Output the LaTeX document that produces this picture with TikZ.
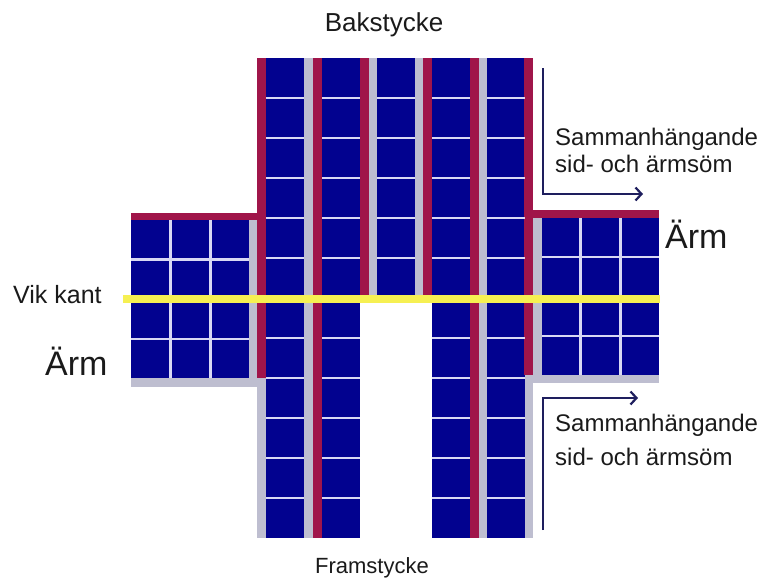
\documentclass[tikz,border=0pt]{standalone}
\usepackage{fontspec}
\setmainfont{Liberation Sans}
\usetikzlibrary{
  arrows.meta,
  positioning
}
\definecolor{cellblue}{HTML}{02028F}
\definecolor{seamred}{HTML}{A0154A}
\definecolor{edgegrey}{HTML}{BEBED0}
\definecolor{lavender}{HTML}{D8D8F4}
\definecolor{foldyellow}{HTML}{F6F052}
\definecolor{arrowink}{HTML}{1E1E5E}
\definecolor{textink}{HTML}{1A1A1A}
\tikzset{
  knitpatch/.style={
    fill=cellblue
  },
  seamstrip/.style={
    fill=seamred
  },
  greyedge/.style={
    fill=edgegrey
  },
  rowline/.style={
    draw=lavender,
    line width=2.6pt
  },
  foldline/.style={
    draw=foldyellow,
    line width=8pt
  },
  seamarrow/.style={
    -{Straight Barb[length=6pt,width=13pt,line width=2.2pt]},
    line width=2.2pt,
    draw=arrowink
  },
  tagtext/.style={
    text=textink,
    inner sep=0pt
  }
}

\begin{document}
\begin{tikzpicture}[x=1pt,y=-1pt]
  \useasboundingbox[fill=white] (0,0) rectangle (774,581);

  % sleeves
  \fill[greyedge] (131,220) rectangle (258,387);
  \fill[knitpatch] (131,220) rectangle (249,378);
  \fill[seamstrip] (131,213) rectangle (262,220);
  \fill[greyedge] (533,218) rectangle (659,383);
  \fill[knitpatch] (542,218) rectangle (659,375);
  \fill[seamstrip] (528,210) rectangle (659,218);
  \foreach \gx in {170.5,210.5}{
    \draw[rowline] (\gx,220) -- (\gx,378);
  }
  \foreach \gy in {259.5,339}{
    \draw[rowline] (131,\gy) -- (249,\gy);
  }
  \foreach \gx in {580.5,620.5}{
    \draw[rowline] (\gx,218) -- (\gx,375);
  }
  \foreach \gy in {257,336}{
    \draw[rowline] (542,\gy) -- (659,\gy);
  }

  % body pieces
  \fill[greyedge] (257,58) rectangle (533,298);
  \fill[greyedge] (257,298) rectangle (360,538);
  \fill[greyedge] (432,298) rectangle (533,538);
  \fill[greyedge] (533,375) rectangle (540,383);
  \foreach \cx/\cbot in {266/538,322/538,377/298,432/538,487/538}{
    \fill[knitpatch] (\cx,58) rectangle ({\cx+38},\cbot);
  }
  \foreach \sx/\sbot in {257/378,313/538,360/298,423/298,470/538,524/375}{
    \fill[seamstrip] (\sx,58) rectangle ({\sx+9},\sbot);
  }
  \foreach \cx/\rows in {266/10,322/10,377/4,432/10,487/10}{
    \foreach \k in {0,...,\rows}{
      \pgfmathsetmacro{\ry}{98+40*\k}
      \ifdim\ry pt=298pt\else
        \draw[rowline] (\cx,\ry) -- ({\cx+38},\ry);
      \fi
    }
  }

  % fold
  \coordinate (foldwest) at (123,299);
  \coordinate (foldeast) at (660,299);
  \draw[foldline] (foldwest) -- (foldeast);

  % seams
  \coordinate (upstart) at (543,68);
  \coordinate (upbend) at (543,194);
  \coordinate (uptip) at (643,194);
  \draw[seamarrow] (upstart) -- (upbend) -- (uptip);
  \coordinate (lowstart) at (543,530);
  \coordinate (lowbend) at (543,398);
  \coordinate (lowtip) at (638,398);
  \draw[seamarrow] (lowstart) -- (lowbend) -- (lowtip);

  % texts
  \node[tagtext, anchor=base, font=\fontsize{26}{30}\selectfont]
    (back) at (384,31) {Bakstycke};
  \node[tagtext, anchor=base, font=\fontsize{22}{26}\selectfont]
    (front) at (372,573) {Framstycke};
  \node[tagtext, anchor=base west, font=\fontsize{25}{29}\selectfont]
    (fold) at (13,303) {Vik kant};
  \node[tagtext, anchor=base west, font=\fontsize{34}{38}\selectfont]
    (sleeveleft) at (45,375) {Ärm};
  \node[tagtext, anchor=base west, font=\fontsize{34}{38}\selectfont]
    (sleeveright) at (665,248) {Ärm};
  \node[tagtext, anchor=base west, align=left, font=\fontsize{24}{27}\selectfont]
    (seamupper) at (555,172) {Sammanhängande\\sid- och ärmsöm};
  \node[tagtext, anchor=base west, align=left, font=\fontsize{24}{34}\selectfont]
    (seamlower) at (555,465) {Sammanhängande\\sid- och ärmsöm};
\end{tikzpicture}
\end{document}
